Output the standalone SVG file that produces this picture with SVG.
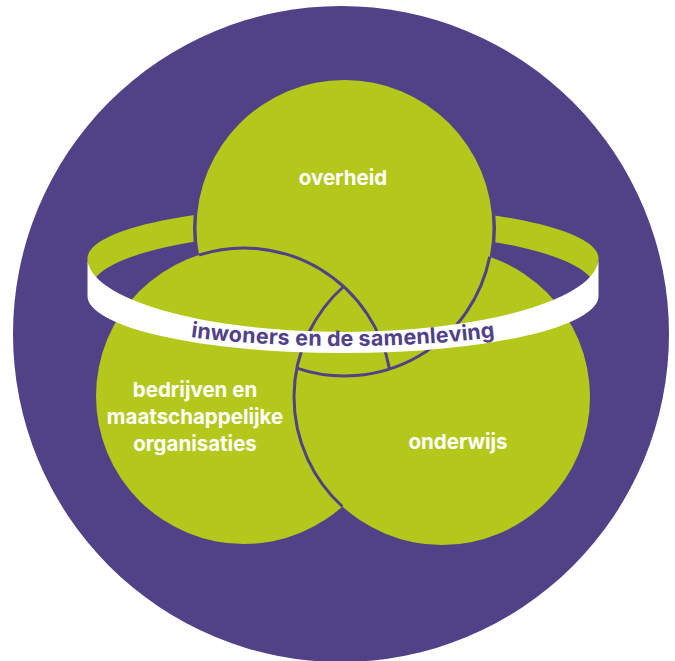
<svg xmlns="http://www.w3.org/2000/svg" width="675" height="661" viewBox="0 0 675 661">
<style>
.bg{fill:#514187}
.green{fill:#b4c81c}
.outline{fill:none;stroke:#514187;stroke-width:3}
.label{font-family:Inter,"Open Sans","Liberation Sans",sans-serif;font-weight:700;font-size:20.5px;fill:#ffffff;text-anchor:middle}
.band-text{font-family:Inter,"Open Sans","Liberation Sans",sans-serif;font-weight:700;font-size:21.5px;letter-spacing:0.2px;fill:#514187;text-anchor:middle}
</style>
<defs>
<path id="bandPath" d="M87.5,301 A255.5 45 0 0 0 598.5,301"/>
</defs>
<circle class="bg" cx="341" cy="334" r="328"/>
<g id="ring-back">
<path class="green" d="M87.5,258 A255.5 53 0 0 1 598.5,258 L594.5,288 A251.5 57.5 0 0 0 91.5,288 Z"/>
</g>
<g id="overheid">
<circle class="bg" cx="344.5" cy="228" r="151.5"/>
<circle class="green" cx="344.5" cy="228" r="148"/>
<text class="label" x="343" y="185">overheid</text>
</g>
<g id="bedrijven">
<circle class="green" cx="244" cy="396" r="148"/>
<text class="label" x="195" y="397">bedrijven en</text>
<text class="label" x="195" y="424">maatschappelijke</text>
<text class="label" x="195" y="451">organisaties</text>
</g>
<g id="onderwijs">
<circle class="green" cx="442" cy="397" r="148"/>
<text class="label" x="458" y="449">onderwijs</text>
</g>
<g id="outlines">
<path class="outline" d="M199,255 A148 148 0 0 1 389.5,369"/>
<path class="outline" d="M489.7,256.9 A148 148 0 0 1 296.8,368.1"/>
<path class="outline" d="M343.6,286.5 A148 148 0 0 0 342.4,506.5"/>
</g>
<g id="ring-front">
<path fill="#ffffff" d="M87.5,258 A255.5 74 0 0 0 598.5,258 L598.5,296 A255.5 57 0 0 1 87.5,296 Z"/>
<text class="band-text"><textPath href="#bandPath" startOffset="50%">inwoners en de samenleving</textPath></text>
</g>
</svg>
